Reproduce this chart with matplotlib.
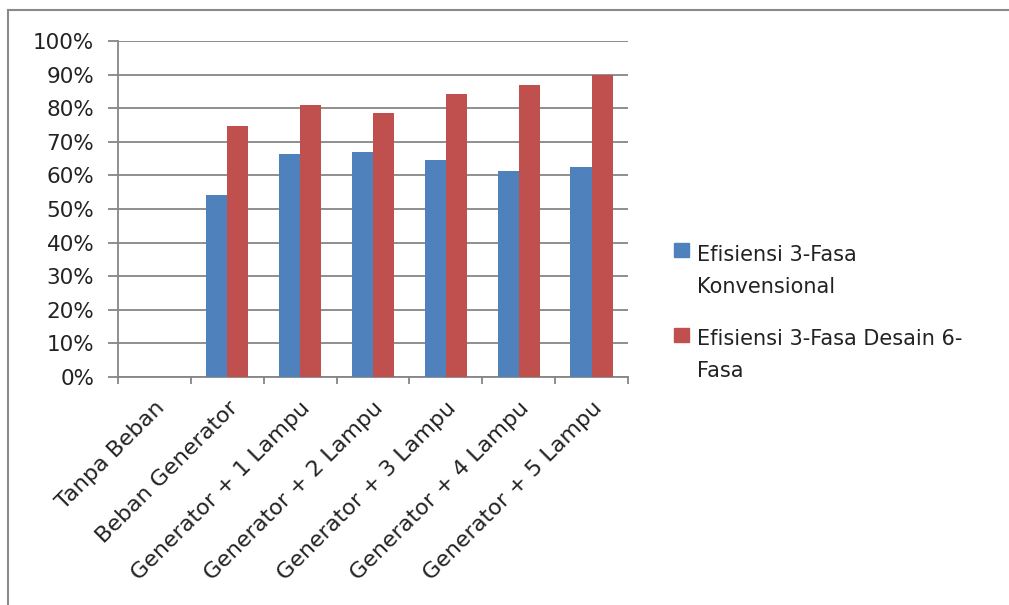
import numpy as np
import matplotlib.pyplot as plt
from matplotlib.lines import Line2D
from matplotlib.patches import Rectangle
from matplotlib.ticker import PercentFormatter
from matplotlib.transforms import ScaledTranslation

kategori = ["Tanpa Beban", "Beban Generator", "Generator + 1 Lampu",
            "Generator + 2 Lampu", "Generator + 3 Lampu",
            "Generator + 4 Lampu", "Generator + 5 Lampu"]
konvensional = [0, 54.2, 66.4, 67.1, 64.6, 61.3, 62.5]
desain_6fasa = [0, 74.7, 81.0, 78.5, 84.2, 86.8, 89.9]
label_seri = ["Efisiensi 3-Fasa\nKonvensional", "Efisiensi 3-Fasa Desain 6-\nFasa"]
warna = ["#4F81BD", "#C0504D"]

W, H = 1009, 605
fig = plt.figure(figsize=(W / 100, H / 100), dpi=100)
ax = fig.add_axes([118 / W, 1 - 377 / H, 510 / W, 336 / H])

x = np.arange(len(kategori))
w = 0.29
ax.bar(x - w / 2, konvensional, w, color=warna[0], zorder=3)
ax.bar(x + w / 2, desain_6fasa, w, color=warna[1], zorder=3)

ax.set_xlim(-0.5, len(kategori) - 0.5)
ax.set_ylim(0, 100)
ax.set_yticks(np.arange(0, 101, 10))
ax.yaxis.set_major_formatter(PercentFormatter(decimals=0))
ax.grid(axis="y", color="#868686", linewidth=1.3, zorder=0)

for s in ["top", "right"]:
    ax.spines[s].set_visible(False)
for s in ["left", "bottom"]:
    ax.spines[s].set_color("#868686")
    ax.spines[s].set_linewidth(1.3)

ax.set_xticks(x)
ax.set_xticklabels(kategori, rotation=45, ha="right", va="top",
                   rotation_mode="anchor", fontsize=16, color="#222222")
geser = ScaledTranslation(2 / 100, 0, fig.dpi_scale_trans)
for t in ax.get_xticklabels():
    t.set_transform(t.get_transform() + geser)
ax.set_xticks(np.arange(-0.5, len(kategori), 1), minor=True)
ax.tick_params(axis="x", which="major", length=0, pad=15)
ax.tick_params(axis="x", which="minor", length=5, width=1.3, color="#868686")
ax.tick_params(axis="y", length=7, width=1.3, color="#868686", labelsize=15.5,
               labelcolor="#222222", pad=10)

# legenda
for i, (lbl, c) in enumerate(zip(label_seri, warna)):
    y_kotak = 1 - (257 + 85 * i) / H
    fig.add_artist(Rectangle((674 / W, y_kotak), 15 / W, 14 / H, color=c))
    fig.text(697 / W, 1 - (293 + 84 * i) / H, lbl, fontsize=15, color="#222222",
             va="baseline", ha="left", linespacing=1.75)

fig.add_artist(Line2D([8 / W, 1], [1 - 10 / H, 1 - 10 / H], color="#8a8a8a", linewidth=1.5))
fig.add_artist(Line2D([8 / W, 8 / W], [0, 1 - 10 / H], color="#8a8a8a", linewidth=1.5))

fig.savefig("out.png")
